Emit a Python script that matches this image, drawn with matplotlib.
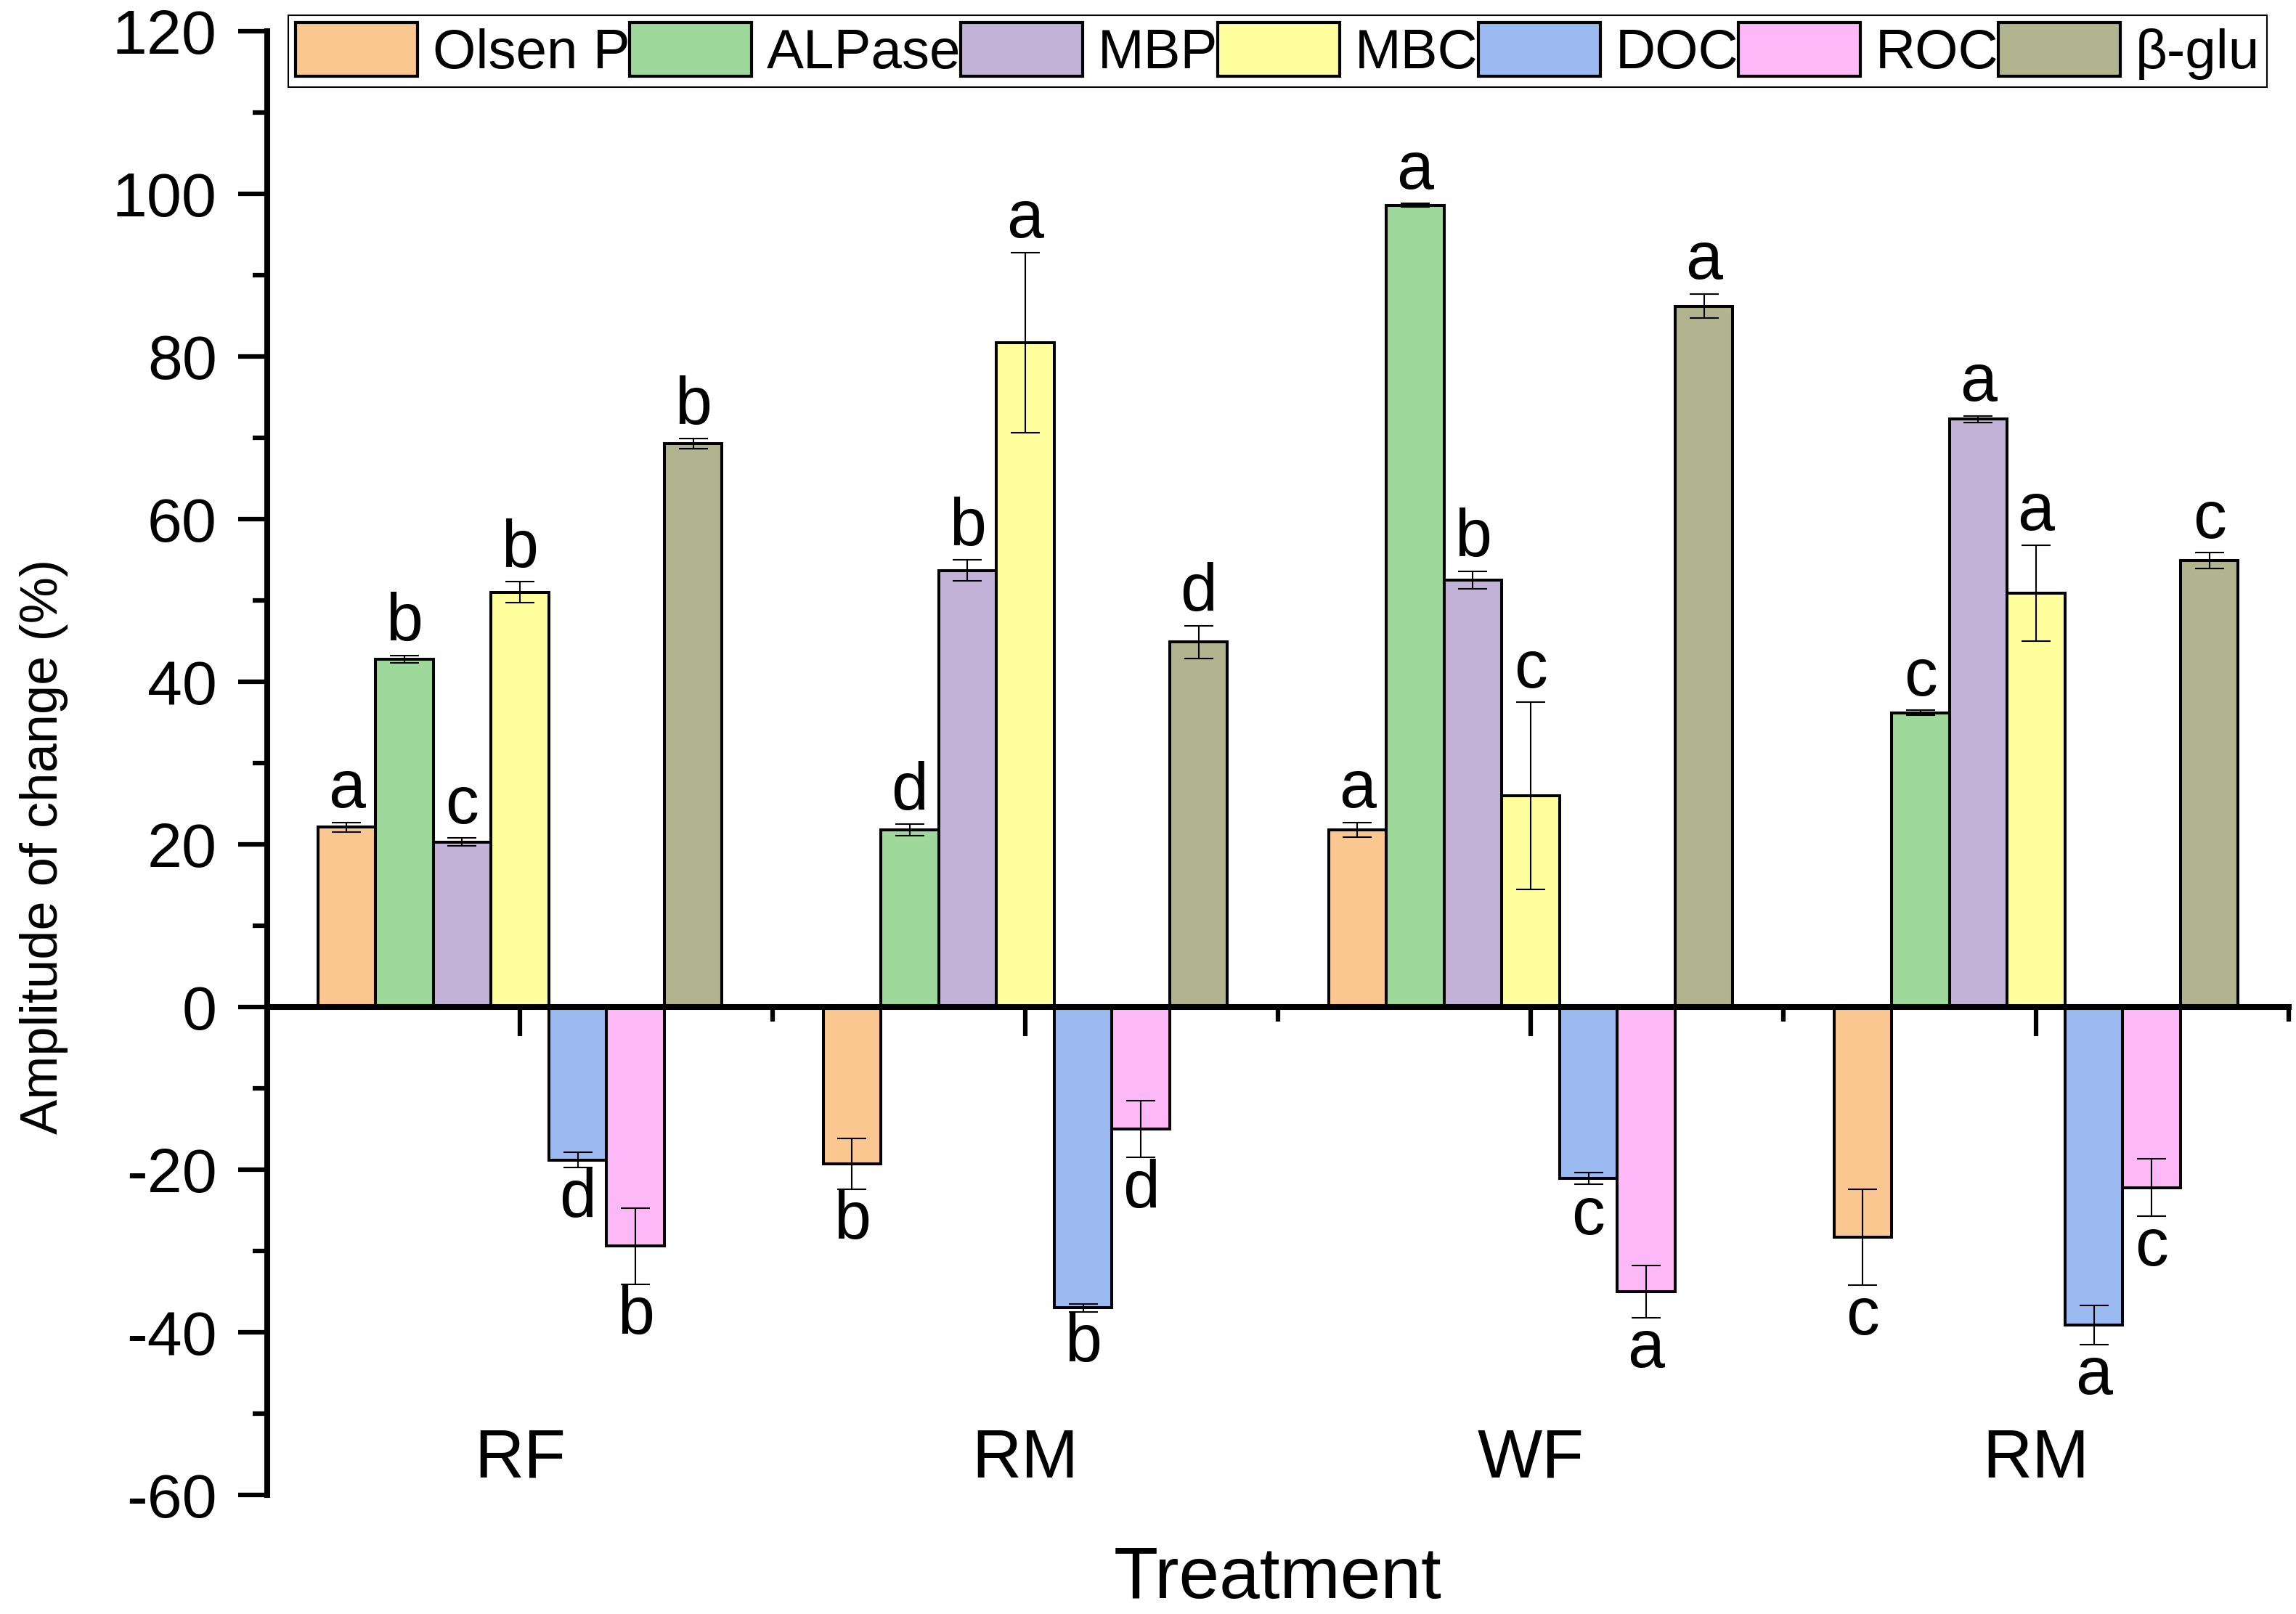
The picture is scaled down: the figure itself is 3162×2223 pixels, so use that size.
import numpy as np
import matplotlib
matplotlib.use('Agg')
import matplotlib.pyplot as plt
from matplotlib.patches import Patch

# --- data ---
treatments = ["RF", "RM", "WF", "RM"]
series = ["Olsen P", "ALPase", "MBP", "MBC", "DOC", "ROC", "β-glu"]
colors = ["#FAC791", "#9ED89B", "#C3B2D7", "#FFFF9E", "#9BBAF2", "#FDB8F8", "#B1B48E"]

# one list per series, one entry per treatment
olsen_p = [22.1, -19.3, 21.8, -28.3]
alpase = [42.8, 21.8, 98.6, 36.2]
mbp = [20.3, 53.7, 52.5, 72.3]
mbc = [51.0, 81.7, 26.0, 50.9]
doc = [-18.8, -37.0, -21.1, -39.1]
roc = [-29.4, -15.0, -35.0, -22.2]
beta_glu = [69.3, 44.9, 86.2, 54.9]

olsen_p_err = [0.6, 3.1, 0.9, 5.9]
alpase_err = [0.45, 0.7, 0.2, 0.3]
mbp_err = [0.5, 1.3, 1.1, 0.4]
mbc_err = [1.3, 11.1, 11.5, 5.9]
doc_err = [0.9, 0.5, 0.7, 2.4]
roc_err = [4.7, 3.5, 3.2, 3.5]
beta_glu_err = [0.6, 2.0, 1.5, 1.0]

olsen_p_lab = ["a", "b", "a", "c"]
alpase_lab = ["b", "d", "a", "c"]
mbp_lab = ["c", "b", "b", "a"]
mbc_lab = ["b", "a", "c", "a"]
doc_lab = ["d", "b", "c", "a"]
roc_lab = ["b", "d", "a", "c"]
beta_glu_lab = ["b", "d", "a", "c"]

values = [olsen_p, alpase, mbp, mbc, doc, roc, beta_glu]
errors = [olsen_p_err, alpase_err, mbp_err, mbc_err, doc_err, roc_err, beta_glu_err]
letters = [olsen_p_lab, alpase_lab, mbp_lab, mbc_lab, doc_lab, roc_lab, beta_glu_lab]

plt.rcParams['font.family'] = ['Liberation Sans', 'DejaVu Sans']
plt.rcParams['axes.unicode_minus'] = False

W, H = 3162, 2223
fig = plt.figure(figsize=(W / 100, H / 100), dpi=100)
ax = fig.add_axes([368 / W, 1 - 2059 / H, (3152 - 368) / W, (2059 - 43) / H])

x = np.arange(len(treatments))
width = 0.8 / len(series)

for i, name in enumerate(series):
    pos = x + (i - 3) * width
    ax.bar(pos, values[i], width, color=colors[i], edgecolor="black", linewidth=2.9, zorder=2)
    ax.errorbar(pos, values[i], yerr=errors[i], fmt="none", ecolor="black",
                elinewidth=1.5, capsize=14.4, capthick=1.5, zorder=3)
    # significance letters above / below the error bars
    for xp, v, e, lab in zip(pos, values[i], errors[i], letters[i]):
        if v >= 0:
            ax.annotate(lab, (xp, v + e), xytext=(0, 1), textcoords="offset points",
                        ha="center", va="bottom", fontsize=66)
        else:
            ax.annotate(lab, (xp, v - e), xytext=(0, -1), textcoords="offset points",
                        ha="center", va="top", fontsize=66)

# --- axes styling (Origin look) ---
ax.set_xlim(-0.5, 3.5)
ax.set_ylim(-60, 120)
ax.spines['top'].set_visible(False)
ax.spines['right'].set_visible(False)
ax.spines['left'].set_linewidth(5.8)
ax.spines['bottom'].set_linewidth(5.8)
ax.spines['bottom'].set_position(('data', 0))
ax.spines['bottom'].set_zorder(4)

ax.set_yticks(np.arange(-60, 121, 20))
ax.set_yticks(np.arange(-50, 120, 20), minor=True)
ax.set_xticks(x)
ax.set_xticklabels(treatments)
ax.set_xticks(x + 0.5, minor=True)

ax.tick_params(axis='y', which='major', direction='out', length=28.8, width=4.5,
               labelsize=62, pad=21)
ax.tick_params(axis='y', which='minor', direction='out', length=14.4, width=4.5)
ax.tick_params(axis='x', which='major', direction='out', length=28.8, width=4.5,
               labelsize=68, pad=388)
ax.tick_params(axis='x', which='minor', direction='out', length=14.4, width=4.5)

ax.set_ylabel("Amplitude of change (%)", fontsize=52)
ax.yaxis.set_label_coords(-0.0985, 0.443)
ax.set_xlabel("Treatment", fontsize=72)
ax.xaxis.set_label_coords(0.5, -0.034)

# --- legend across the top ---
handles = [Patch(facecolor=c, edgecolor="black", linewidth=3) for c in colors]
leg = fig.legend(handles, series, ncol=7, mode="expand", loc="upper left",
                 bbox_to_anchor=(397 / W, 1 - 126 / H, 2725 / W, 105 / H),
                 fontsize=55, handlelength=2.2, handleheight=1.11, handletextpad=0.27,
                 borderpad=0.13, borderaxespad=0, columnspacing=0.1,
                 fancybox=False, framealpha=1)
leg.get_frame().set_edgecolor("black")
leg.get_frame().set_linewidth(1.5)

fig.savefig("out.png", dpi=100)
